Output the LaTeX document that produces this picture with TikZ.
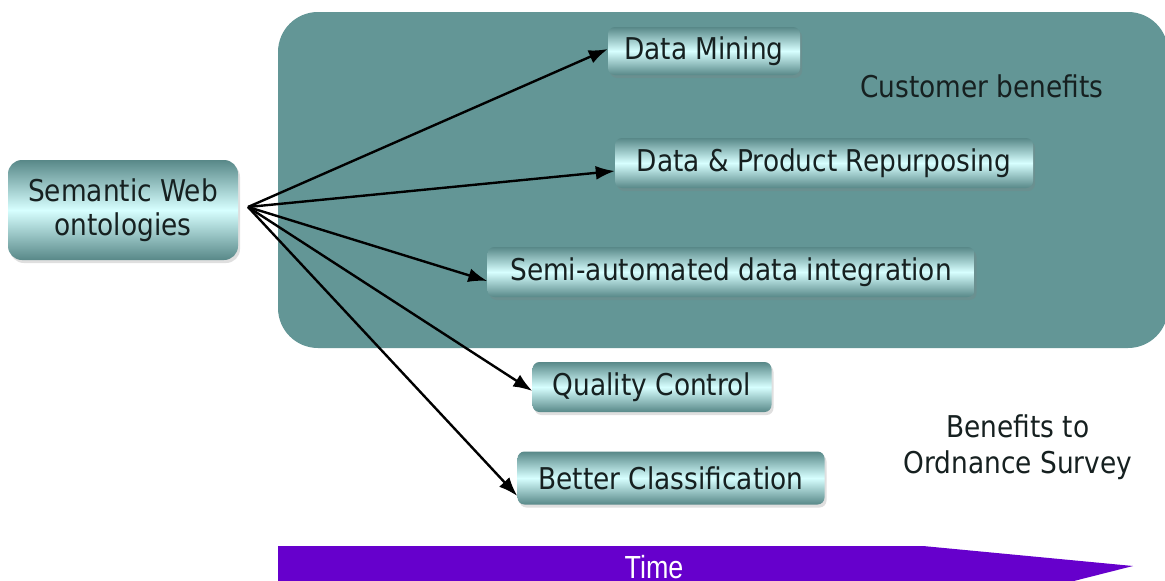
\documentclass[tikz,border=0pt]{standalone}
\usepackage{fontspec}
\setmainfont{DejaVu Sans}[FakeStretch=0.88]
\newfontfamily\timefont{Liberation Sans}
\usetikzlibrary{arrows.meta,shadows}
\definecolor{panel}{RGB}{99,150,150}
\definecolor{boxdark}{RGB}{88,136,136}
\definecolor{boxlight}{RGB}{215,255,255}
\definecolor{ink}{RGB}{22,32,32}
\definecolor{timecol}{RGB}{102,0,204}
\tikzset{
  benefit/.style={rounded corners=7pt, top color=boxdark, bottom color=boxdark, middle color=boxlight,
    text=ink, font=\fontsize{30}{34}\selectfont, inner sep=0pt,
    drop shadow={shadow xshift=2pt, shadow yshift=-3pt, opacity=0.25}},
  conn/.style={draw=black, line width=2.4pt, -{Latex[length=19pt,width=14pt]}},
  plain/.style={text=ink, font=\fontsize{30}{36}\selectfont, align=center}
}
\begin{document}
\begin{tikzpicture}[x=1pt,y=-1pt]
\useasboundingbox (0,0) rectangle (1165,581);
\fill[white] (0,0) rectangle (1165,581);
\clip (0,0) rectangle (1165,581);
% customer benefits panel
\fill[panel, rounded corners=40pt] (278,12) rectangle (1168,348);
\node[plain] (cust) at (982,86) {Customer benefits};
\node[plain] (os) at (1018,447) {Benefits to\\Ordnance Survey};
% nodes
\node[benefit, rounded corners=14pt, minimum width=230pt, minimum height=100pt, align=center] (sw) at (123,210) {Semantic Web\\ontologies};
\node[benefit, minimum width=192pt, minimum height=48pt] (dm) at (704,51) {Data Mining};
\node[benefit, minimum width=418pt, minimum height=50pt] (dp) at (824,163) {Data \& Product Repurposing};
\node[benefit, minimum width=487pt, minimum height=50pt] (si) at (731,272) {Semi-automated data integration};
\node[benefit, minimum width=239pt, minimum height=50pt] (qc) at (652,387) {Quality Control};
\node[benefit, minimum width=307pt, minimum height=53pt] (bc) at (671,478) {Better Classification};
% connectors
\coordinate (hub) at (248,207);
\draw[conn] (hub) -- ([yshift=2pt]dm.west);
\draw[conn] (hub) -- ([yshift=-8pt]dp.west);
\draw[conn] (hub) -- ([yshift=-9pt]si.west);
\draw[conn] (hub) -- ([yshift=-4pt]qc.west);
\draw[conn] (hub) -- ([yshift=-18pt]bc.west);
% time arrow
\fill[timecol] (278,546) -- (923,546) -- (1133,566) -- (1058,585) -- (278,585) -- cycle;
\node[text=white, font=\timefont\fontsize{32}{32}\selectfont, xscale=0.84, anchor=base, inner sep=0pt] (time) at (654,578) {Time};
\end{tikzpicture}
\end{document}
